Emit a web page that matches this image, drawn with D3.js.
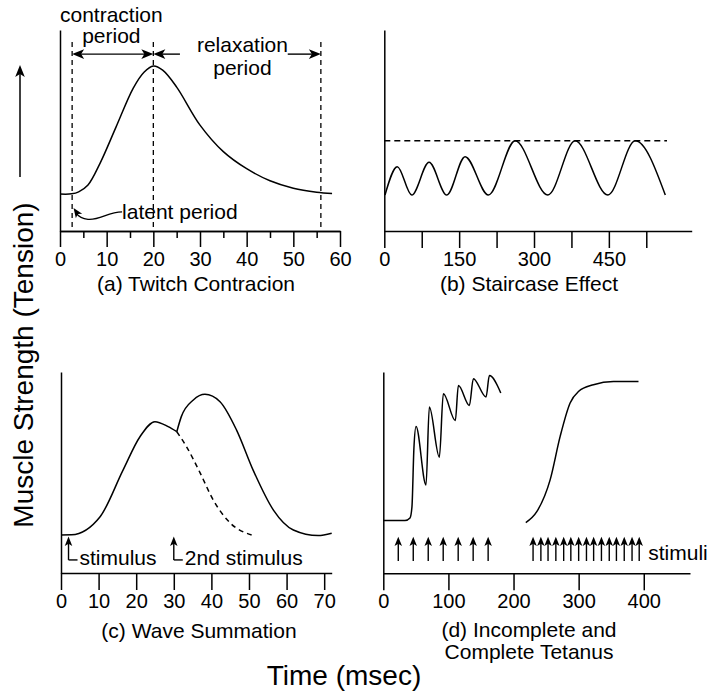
<!DOCTYPE html>
<html>
<head>
<meta charset="utf-8">
<script src="https://d3js.org/d3.v7.min.js"></script>
<style>
  body { margin: 0; background: #fff; }
  text { font-family: "Liberation Sans", Arial, Helvetica, sans-serif; fill: #000; }
</style>
</head>
<body>
<svg id="chart" width="709" height="691"></svg>
<script>
// ---- data: [time (msec), tension (0-100)] ----
var twitch = [[0,18.4],[2.5,18.5],[4,19.5],[6,22.9],[8.6,33.8],[12,51.7],[15.7,71.1],[18,79],[20,82.1],[22,80],[25,71.6],[30,52.7],[35,39.5],[40,31],[45,25],[50,21.3],[55,19.3],[58.3,18.6]]
var twitchMarks = [2.6, 20, 55.9]          // latent end, peak, relaxation end
var twitchTicks = [0,10,20,30,40,50,60]
var twitchMinor = [5,15,25,35,45,55]

var staircase = [[1.4,17.9],[26,32],[55,17.9],[89.7,34.2],[125.2,17.9],[161.9,37],[208.6,17.9],[262.2,44.9],[327.8,17.9],[382.5,44.9],[448.1,17.9],[502.9,44.9],[563.1,17.9]]
var staircaseMax = 44.9
var staircaseTicks = [0,75,150,225,300,375,450,525]
var staircaseLabels = [0,150,300,450]

var summationFirst = [[0,18.9],[2.8,19],[10.4,28],[16.5,51.2],[21,67.8],[25,75.3],[28.5,72.8],[30.8,70.3]]
var summationFaded = [[30.8,70.3],[33.4,62.8],[37,49.8],[40.5,36.3],[45,24.9],[50.7,18.9]]
var summationSecond = [[30.8,70.3],[32,77.8],[35.2,86.1],[38.3,88.9],[42.3,85.2],[46.7,71.1],[51.1,51.2],[56.5,31.3],[61.8,21.4],[68.4,18.6],[72,19.8]]
var summationStimuli = [2, 30]
var summationStimLabels = ["stimulus", "2nd stimulus"]
var summationTicks = [0,10,20,30,40,50,60,70]

var incomplete = [[0,26.2],[33.3,26.2],[41,27.5],[44,33],[47,62],[50.3,72.9],[65.6,43.9],[70.7,82.6],[86.1,57.7],[92.2,89.2],[110.6,75.9],[115.3,93.3],[132.2,83.4],[138.3,96.7],[157.8,87.6],[162.9,98.2],[180.4,89.6]]
var complete = [[218.8,25.2],[235.7,30.6],[256.2,46.4],[271.6,68],[286.9,84.6],[299.7,90.3],[322.7,93.7],[353.5,95.3],[391.9,95.3]]
var stimuliIncomplete = [23,46,69,92,115,138,161]
var stimuliComplete = [230,242,253,265,277,288,300,312,323,335,347,358,370,382,393]
var tetanusTicks = [0,100,200,300,400]

var captions = ["(a) Twitch Contracion", "(b) Staircase Effect", "(c) Wave Summation"]
var captionD = ["(d) Incomplete and", "Complete Tetanus"]

// ---- layout ----
var svg = d3.select("#chart")
var ink = "#000"

function panel(x0, x1, yTop, yBase, xMax) {
    return {
        x: d3.scaleLinear().domain([0, xMax]).range([x0, x1]),
        y: d3.scaleLinear().domain([0, 100]).range([yBase, yTop])
    }
}
var pa = panel(60, 340, 30, 231, 60)
var pb = panel(384.3, 691.7, 30, 231, 616)
var pc = panel(61, 331.7, 372, 573, 72)
var pd = panel(383.3, 690, 372, 573.3, 471)

function axes(p, ticks, len, fmt) {
    var xa = svg.append("g")
        .attr("transform", "translate(0," + p.y(0) + ")")
        .call(d3.axisBottom(p.x).tickValues(ticks).tickSize(len).tickSizeOuter(0).tickFormat(fmt || d3.format("d")))
    xa.attr("font-size", 20).attr("font-family", null)
    xa.selectAll("path, line").attr("stroke", ink).attr("stroke-width", 1.5)
    xa.selectAll(".tick text").attr("y", 35).attr("dy", null)
    var ya = svg.append("g")
        .attr("transform", "translate(" + p.x(0) + ",0)")
        .call(d3.axisLeft(p.y).tickValues([]).tickSizeOuter(0))
    ya.select(".domain").attr("stroke", ink).attr("stroke-width", 1.5)
}

function curve(p, data, dashed, smooth) {
    var line = d3.line()
        .x(d => p.x(d[0]))
        .y(d => p.y(d[1]))
        .curve(smooth ? d3.curveCatmullRom.alpha(0.5) : d3.curveMonotoneX)
    svg.append("path")
        .datum(data)
        .attr("d", line)
        .attr("fill", "none")
        .attr("stroke", ink)
        .attr("stroke-width", 1.5)
        .attr("stroke-dasharray", dashed ? "5,4" : null)
}

// arrow head with tip at (x,y), pointing along angle (deg)
function head(x, y, angle, s) {
    s = s || 1
    svg.append("path")
        .attr("d", "M0,0L" + (-12 * s) + "," + (-4.8 * s) + "L" + (-9 * s) + ",0L" + (-12 * s) + "," + (4.8 * s) + "Z")
        .attr("transform", "translate(" + x + "," + y + ") rotate(" + angle + ")")
        .attr("fill", ink)
}

function seg(x1, y1, x2, y2, w, dash) {
    svg.append("line")
        .attr("x1", x1).attr("y1", y1).attr("x2", x2).attr("y2", y2)
        .attr("stroke", ink).attr("stroke-width", w || 1.5)
        .attr("stroke-dasharray", dash || null)
}

function label(txt, x, y, anchor, size) {
    svg.append("text")
        .attr("x", x).attr("y", y)
        .attr("text-anchor", anchor || "start")
        .attr("font-size", size || 21)
        .text(txt)
}

function stimulusArrow(p, t, lo, hi) {
    seg(p.x(t), p.y(lo), p.x(t), p.y(hi) + 6, 1.4)
    head(p.x(t), p.y(hi), -90, 0.78)
}

// ---- (a) twitch contraction ----
axes(pa, twitchTicks, 16)
svg.append("g")
    .attr("transform", "translate(0," + pa.y(0) + ")")
    .call(d3.axisBottom(pa.x).tickValues(twitchMinor).tickSize(7).tickSizeOuter(0).tickFormat(""))
    .selectAll("path, line").attr("stroke", ink).attr("stroke-width", 1.5)

twitchMarks.forEach(function(t) {
    seg(pa.x(t), pa.y(94), pa.x(t), pa.y(0), 1.3, "5,4")
})
curve(pa, twitch, false, true)

var arrowY = pa.y(88)
seg(pa.x(twitchMarks[0]) + 6, arrowY, pa.x(twitchMarks[1]) - 6, arrowY, 1.4)
head(pa.x(twitchMarks[0]), arrowY, 180)
head(pa.x(twitchMarks[1]), arrowY, 0)
seg(pa.x(twitchMarks[1]) + 6, arrowY, pa.x(25.7), arrowY, 1.4)
seg(pa.x(48.8), arrowY, pa.x(twitchMarks[2]) - 6, arrowY, 1.4)
head(pa.x(twitchMarks[1]), arrowY, 180)
head(pa.x(twitchMarks[2]), arrowY, 0)

label("contraction", pa.x(11), 22, "middle")
label("period", pa.x(11), 43, "middle")
label("relaxation", pa.x(39.1), 52, "middle")
label("period", pa.x(39.1), 75, "middle")

// latent period pointer
svg.append("path")
    .attr("d", "M" + pa.x(13.3) + "," + pa.y(9.5) +
        "C" + pa.x(10.3) + "," + pa.y(9.5) + " " + pa.x(8.6) + "," + pa.y(5.3) + " " + pa.x(6) + "," + pa.y(5.8) +
        "C" + pa.x(4.6) + "," + pa.y(6.1) + " " + pa.x(3.9) + "," + pa.y(7.4) + " " + pa.x(3.4) + "," + pa.y(9))
    .attr("fill", "none").attr("stroke", ink).attr("stroke-width", 1.4)
head(pa.x(2.9), pa.y(11.4), -125, 0.8)
label("latent period", pa.x(13.3), 218.5)

label(captions[0], 196, 291, "middle")

// ---- (b) staircase effect ----
axes(pb, staircaseTicks, 17, d => staircaseLabels.includes(d) ? d : "")
seg(pb.x(0), pb.y(staircaseMax), pb.x(566.5), pb.y(staircaseMax), 1.3, "6,4")
curve(pb, staircase)
label(captions[1], 529, 291, "middle")

// ---- (c) wave summation ----
axes(pc, summationTicks, 17)
curve(pc, summationFirst)
curve(pc, summationFaded, true)
curve(pc, summationSecond)
summationStimuli.forEach(function(t, i) {
    var x = pc.x(t), yb = pc.y(6.5)
    stimulusArrow(pc, t, 6.5, 18.1)
    seg(x, yb, x + 9, yb, 1.4)
    label(summationStimLabels[i], x + 11, 565)
})
label(captions[2], 199, 638, "middle")

// ---- (d) incomplete and complete tetanus ----
axes(pd, tetanusTicks, 17)
curve(pd, incomplete)
curve(pd, complete)
stimuliIncomplete.concat(stimuliComplete).forEach(function(t) {
    stimulusArrow(pd, t, 6.1, 18.2)
})
label("stimuli", pd.x(393) + 9, 560)
label(captionD[0], 529, 637, "middle")
label(captionD[1], 529, 659, "middle")

// ---- shared axis titles ----
seg(20, 177, 20, 71, 1.5)
head(20, 65, -90)
svg.append("text")
    .attr("transform", "translate(33,365) rotate(-90)")
    .attr("text-anchor", "middle")
    .attr("font-size", 28)
    .text("Muscle Strength (Tension)")
label("Time (msec)", 344, 685, "middle", 28)
</script>
</body>
</html>
